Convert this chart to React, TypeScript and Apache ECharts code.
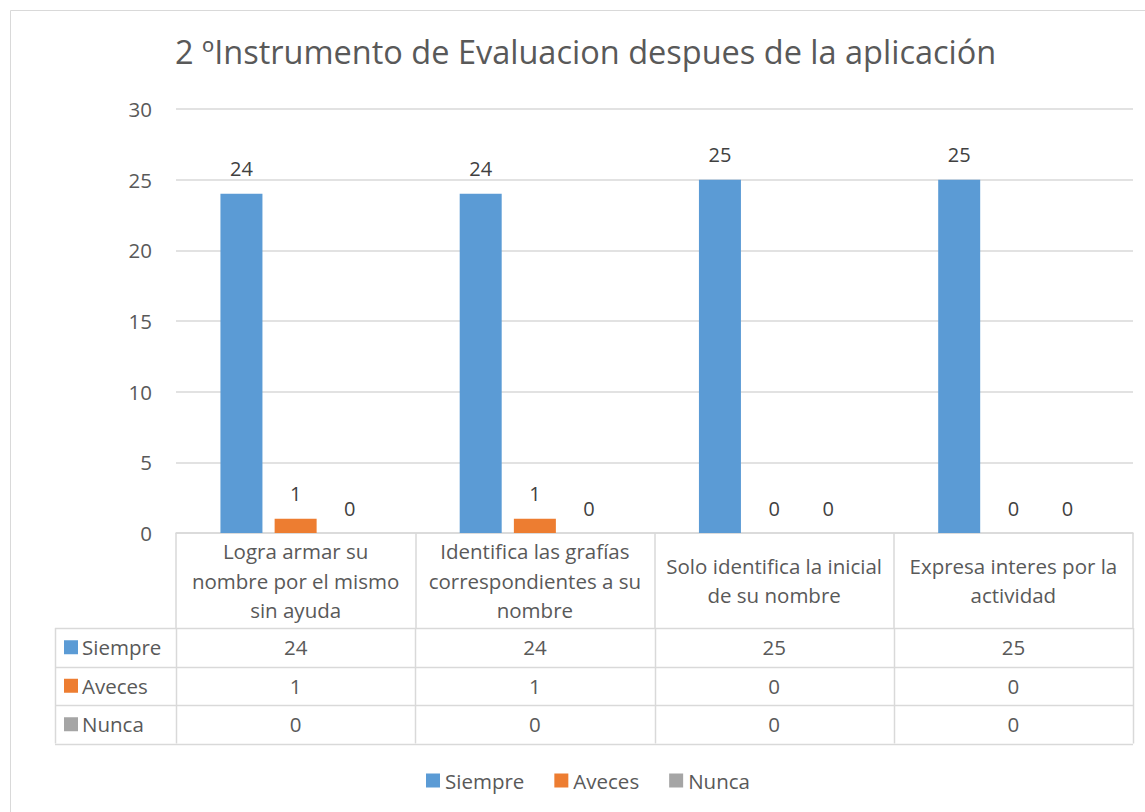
import React, { useEffect, useRef } from "react";
import * as echarts from "echarts";

const title = "2 ºInstrumento de Evaluacion despues de la aplicación";
const categories = [
  "Logra armar su nombre por el mismo sin ayuda",
  "Identifica las grafías correspondientes a su nombre",
  "Solo identifica la inicial de su nombre",
  "Expresa interes por la actividad",
];
const categoryLabelLines = [
  ["Logra armar su", "nombre por el mismo", "sin ayuda"],
  ["Identifica las grafías", "correspondientes a su", "nombre"],
  ["Solo identifica la inicial", "de su nombre"],
  ["Expresa interes por la", "actividad"],
];
const seriesNames = ["Siempre", "Aveces", "Nunca"];
const siempre = [24, 24, 25, 25];
const aveces = [1, 1, 0, 0];
const nunca = [0, 0, 0, 0];
const seriesColors = ["#5B9BD5", "#ED7D31", "#A5A5A5"];
const yTicks = { min: 0, max: 30, interval: 5 };

const FONT = "'Open Sans', Lato, sans-serif";
const FS = 20.5;
const TEXT = "#595959";
const LINE = "#D9D9D9";

export default function App() {
  const ref = useRef<HTMLDivElement>(null);
  useEffect(() => {
    if (!ref.current) return;
    const chart = echarts.init(ref.current, null, { renderer: "svg" });
    const W = 1145;
    const gridLeft = 176;
    const gridRight = 1133;
    const gridTop = 109;
    const gridBottomY = 533;
    const catRowH = 95;
    const rowH = 38.5;
    const tableLeft = 55;
    const catW = (gridRight - gridLeft) / categories.length;
    const rowsTop = gridBottomY + catRowH;
    const allSeries = [siempre, aveces, nunca];

    const graphics: any[] = [];
    graphics.push({
      type: "rect",
      shape: { x: 10.5, y: 10.5, width: 1300, height: 1000 },
      style: { fill: "none", stroke: LINE, lineWidth: 1 },
      silent: true,
    });
    for (let r = 0; r <= seriesNames.length; r++) {
      const y = Math.round(rowsTop + r * rowH) + 0.5;
      graphics.push({
        type: "line",
        shape: { x1: tableLeft, y1: y, x2: gridRight, y2: y },
        style: { stroke: LINE, lineWidth: 1.5 },
        silent: true,
      });
    }
    const vxs = [tableLeft];
    for (let c = 0; c <= categories.length; c++) vxs.push(gridLeft + c * catW);
    vxs.forEach((x) => {
      graphics.push({
        type: "line",
        shape: { x1: Math.round(x) + 0.5, y1: rowsTop, x2: Math.round(x) + 0.5, y2: rowsTop + seriesNames.length * rowH },
        style: { stroke: LINE, lineWidth: 1.5 },
        silent: true,
      });
    });
    seriesNames.forEach((name, r) => {
      const cy = rowsTop + r * rowH + rowH / 2;
      graphics.push({
        type: "rect",
        shape: { x: 64, y: cy - 7, width: 14, height: 14 },
        style: { fill: seriesColors[r] },
        silent: true,
      });
      graphics.push({
        type: "text",
        x: 82,
        y: cy,
        style: { text: name, fill: TEXT, font: `${FS}px ${FONT}`, verticalAlign: "middle", align: "left" },
        silent: true,
      });
      allSeries[r].forEach((v, c) => {
        graphics.push({
          type: "text",
          x: gridLeft + c * catW + catW / 2,
          y: cy,
          style: { text: String(v), fill: TEXT, font: `${FS}px ${FONT}`, verticalAlign: "middle", align: "center" },
          silent: true,
        });
      });
    });

    chart.setOption({
      animation: false,
      title: {
        text: title,
        left: 170,
        top: 30,
        textStyle: { fontFamily: FONT, fontSize: 32.5, fontWeight: "normal", color: TEXT },
      },
      legend: {
        data: seriesNames,
        top: 765,
        left: 421,
        icon: "rect",
        itemWidth: 14,
        itemHeight: 14,
        itemGap: 30,
        textStyle: { fontFamily: FONT, fontSize: FS, color: TEXT },
      },
      grid: { left: gridLeft, right: W - gridRight, top: gridTop, bottom: 812 - gridBottomY, containLabel: false },
      xAxis: {
        type: "category",
        data: categories,
        axisLine: { show: true, lineStyle: { color: LINE, width: 1.5 } },
        axisTick: { show: true, length: catRowH, interval: 0, lineStyle: { color: LINE, width: 1.5 } },
        axisLabel: {
          interval: 0,
          margin: catRowH / 2,
          verticalAlign: "middle",
          lineHeight: 29.5,
          fontFamily: FONT,
          fontSize: FS,
          color: TEXT,
          formatter: (_v: string, i: number) => categoryLabelLines[i].join("\n"),
        },
      },
      yAxis: {
        type: "value",
        min: yTicks.min,
        max: yTicks.max,
        interval: yTicks.interval,
        axisLine: { show: false },
        axisTick: { show: false },
        splitLine: { lineStyle: { color: LINE, width: 1.5 } },
        axisLabel: { margin: 24, fontFamily: FONT, fontSize: FS, color: TEXT },
      },
      series: seriesNames.map((name, i) => ({
        name,
        type: "bar",
        data: allSeries[i],
        barWidth: 42,
        barGap: "29%",
        itemStyle: { color: seriesColors[i] },
        label: {
          show: true,
          position: "top",
          distance: 15,
          fontFamily: FONT,
          fontSize: 20,
          color: "#404040",
        },
      })),
      graphic: graphics,
    });
    return () => chart.dispose();
  }, []);
  return (
    <div
      ref={ref}
      style={{ position: "absolute", left: 0, top: 0, width: 1145, height: 812, background: "#fff" }}
    />
  );
}
